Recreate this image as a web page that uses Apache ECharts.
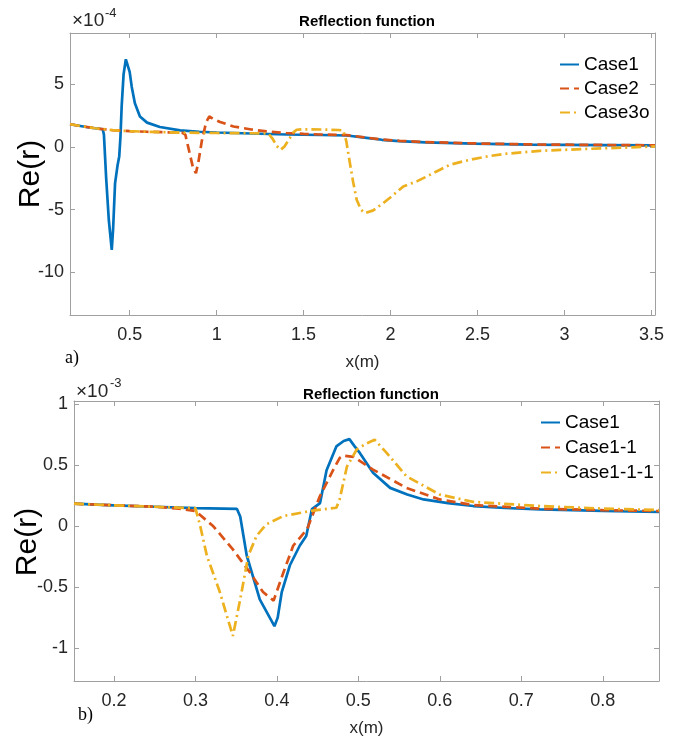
<!DOCTYPE html>
<html>
<head>
<meta charset="utf-8">
<script src="https://cdn.jsdelivr.net/npm/echarts@6/dist/echarts.min.js"></script>
<style>html,body{margin:0;padding:0;background:#fff}#c{width:680px;height:738px}</style>
</head>
<body>
<div id="c"></div>
<script>
// ---------- Panel a) values in units of 1e-4 ----------
const a_case1_x = [0.157,0.2,0.25,0.3,0.345,0.352,0.365,0.38,0.397,0.405,0.416,0.43,0.44,0.447,0.454,0.465,0.478,0.489,0.5,0.512,0.53,0.559,0.6,0.674,0.79,0.9,1.0,1.2,1.4,1.6,1.75,1.85,1.95,2.05,2.2,2.475,2.8,3.2,3.52];
const a_case1_y = [1.82,1.72,1.6,1.5,1.42,1.0,-2.5,-5.8,-8.2,-6.5,-2.9,-1.5,-0.75,0.8,3.24,5.8,7.0,7.1,6.0,4.8,3.5,2.44,1.95,1.6,1.33,1.22,1.16,1.08,1.0,0.96,0.92,0.75,0.58,0.48,0.38,0.28,0.2,0.16,0.13];
const a_case2_x = [0.157,0.2,0.3,0.4,0.5,0.6,0.7,0.8,0.82,0.845,0.865,0.881,0.895,0.915,0.94,0.958,0.98,1.02,1.097,1.2,1.287,1.4,1.5,1.6,1.75,1.85,1.95,2.05,2.2,2.475,2.8,3.2,3.52];
const a_case2_y = [1.82,1.72,1.5,1.35,1.27,1.22,1.18,1.15,1.0,-0.5,-1.7,-2.08,-1.2,0.5,2.0,2.44,2.25,2.0,1.64,1.4,1.25,1.12,1.05,1.0,0.95,0.77,0.6,0.5,0.4,0.29,0.21,0.17,0.14];
const a_case3_x = [0.157,0.2,0.3,0.4,0.5,0.6,0.8,1.0,1.2,1.297,1.32,1.345,1.368,1.39,1.42,1.44,1.46,1.5,1.6,1.7,1.728,1.745,1.766,1.785,1.805,1.83,1.852,1.9,1.958,2.0,2.073,2.15,2.2,2.284,2.341,2.4,2.475,2.567,2.667,2.858,3.145,3.35,3.52];
const a_case3_y = [1.82,1.72,1.5,1.35,1.27,1.22,1.15,1.12,1.1,1.08,0.7,0.1,-0.22,0.05,0.7,1.15,1.38,1.42,1.4,1.36,1.33,0.5,-1.28,-2.8,-4.2,-5.0,-5.27,-5.05,-4.47,-4.0,-3.14,-2.74,-2.4,-1.81,-1.41,-1.2,-0.96,-0.72,-0.53,-0.3,-0.14,-0.04,0.05];
const a_xTicks = [0.5,1,1.5,2,2.5,3,3.5];
const a_yTicks = [-10,-5,0,5];

// ---------- Panel b) values in units of 1e-3 ----------
const b_case1_x = [0.151,0.2,0.25,0.3,0.351,0.355,0.363,0.379,0.397,0.401,0.406,0.416,0.428,0.436,0.443,0.453,0.461,0.473,0.482,0.489,0.495,0.502,0.518,0.539,0.56,0.58,0.61,0.641,0.68,0.723,0.8,0.869];
const b_case1_y = [0.185,0.172,0.16,0.148,0.142,0.08,-0.24,-0.6,-0.82,-0.75,-0.54,-0.32,-0.16,-0.08,0.14,0.19,0.46,0.655,0.7,0.715,0.66,0.6,0.44,0.315,0.26,0.22,0.19,0.166,0.15,0.139,0.126,0.117];
const b_case11_x = [0.151,0.2,0.25,0.28,0.3,0.322,0.346,0.367,0.383,0.396,0.408,0.42,0.437,0.453,0.469,0.477,0.481,0.494,0.518,0.559,0.6,0.641,0.723,0.8,0.869];
const b_case11_y = [0.185,0.172,0.16,0.145,0.125,0.0,-0.19,-0.38,-0.54,-0.61,-0.38,-0.16,-0.025,0.25,0.46,0.56,0.58,0.57,0.465,0.315,0.22,0.174,0.144,0.132,0.125];
const b_case111_x = [0.151,0.2,0.25,0.3,0.306,0.314,0.33,0.346,0.355,0.365,0.375,0.387,0.408,0.441,0.473,0.477,0.486,0.498,0.51,0.52,0.535,0.559,0.6,0.641,0.723,0.8,0.869];
const b_case111_y = [0.185,0.172,0.16,0.148,0.0,-0.24,-0.54,-0.9,-0.6,-0.24,-0.08,0.016,0.084,0.125,0.152,0.22,0.49,0.63,0.68,0.71,0.6,0.41,0.26,0.2,0.166,0.145,0.133];
const b_xTicks = [0.2,0.3,0.4,0.5,0.6,0.7,0.8];
const b_yTicks = [-1,-0.5,0,0.5,1];

const zip = (xs, ys) => xs.map((x, i) => [x, ys[i]]);

const FONT = '"Liberation Sans", Arial, Helvetica, sans-serif';
const AXC = '#a0a0a0';
const TXT = '#262626';
const BLUE = '#0072BD', ORANGE = '#D95319', YELLOW = '#EDB120';

function axisLine() { return { show: true, onZero: false, lineStyle: { color: AXC, width: 1 } }; }
function mainX(grid, min, max, ticks) {
  return {
    type: 'value', gridIndex: grid, min: min, max: max, position: 'bottom',
    axisLine: axisLine(),
    axisTick: { show: true, inside: true, length: 5, lineStyle: { color: AXC }, customValues: ticks },
    axisLabel: { show: true, color: TXT, fontSize: 18, fontFamily: FONT, margin: 11, customValues: ticks, formatter: v => String(+v.toFixed(2)) },
    splitLine: { show: false },
    name: 'x(m)', nameLocation: 'middle', nameGap: 39,
    nameTextStyle: { color: TXT, fontSize: 17, fontFamily: FONT }
  };
}
function boxX(grid, min, max, ticks) {
  return {
    type: 'value', gridIndex: grid, min: min, max: max, position: 'top',
    axisLine: axisLine(),
    axisTick: { show: true, inside: true, length: 5, lineStyle: { color: AXC }, customValues: ticks },
    axisLabel: { show: false }, splitLine: { show: false }
  };
}
function mainY(grid, min, max, ticks) {
  return {
    type: 'value', gridIndex: grid, min: min, max: max, position: 'left',
    axisLine: axisLine(),
    axisTick: { show: true, inside: true, length: 5, lineStyle: { color: AXC }, customValues: ticks },
    axisLabel: { show: true, color: TXT, fontSize: 18, fontFamily: FONT, margin: 6, customValues: ticks, formatter: v => String(+v.toFixed(2)) },
    splitLine: { show: false }
  };
}
function boxY(grid, min, max, ticks) {
  return {
    type: 'value', gridIndex: grid, min: min, max: max, position: 'right',
    axisLine: axisLine(),
    axisTick: { show: true, inside: true, length: 5, lineStyle: { color: AXC }, customValues: ticks },
    axisLabel: { show: false }, splitLine: { show: false }
  };
}
function line(name, data, xi, yi, color, type) {
  return {
    type: 'line', name: name, data: data, xAxisIndex: xi, yAxisIndex: yi,
    showSymbol: false, symbol: 'none', smooth: false, clip: true,
    lineStyle: { color: color, width: 2.7, type: type }, itemStyle: { color: color },
    z: 3, animation: false
  };
}
const DASH = [9, 5];
const DASHDOT = [10, 4, 2, 4];

const chart = echarts.init(document.getElementById('c'), null, { renderer: 'canvas' });
chart.setOption({
  backgroundColor: '#fff',
  animation: false,
  title: [
    { text: 'Reflection function', left: 362, top: 9, textAlign: 'center',
      textStyle: { fontSize: 15, fontWeight: 'bold', color: '#000', fontFamily: FONT } },
    { text: 'Reflection function', left: 366, top: 382, textAlign: 'center',
      textStyle: { fontSize: 15, fontWeight: 'bold', color: '#000', fontFamily: FONT } }
  ],
  grid: [
    { left: 70, top: 33, width: 585, height: 282 },
    { left: 74, top: 401, width: 585, height: 282 }
  ],
  xAxis: [
    mainX(0, 0.157, 3.52, a_xTicks), boxX(0, 0.157, 3.52, a_xTicks),
    mainX(1, 0.151, 0.869, b_xTicks), boxX(1, 0.151, 0.869, b_xTicks)
  ],
  yAxis: [
    mainY(0, -13.4, 9.1, a_yTicks), boxY(0, -13.4, 9.1, a_yTicks),
    mainY(1, -1.27, 1.028, b_yTicks), boxY(1, -1.27, 1.028, b_yTicks)
  ],
  legend: [
    { orient: 'vertical', left: 554, top: 50, itemWidth: 19, itemHeight: 14, itemGap: 5,
      data: ['Case1', 'Case2', 'Case3o'], itemStyle: { opacity: 0 },
      textStyle: { fontSize: 19, color: '#000', fontFamily: FONT } },
    { orient: 'vertical', left: 535, top: 408, itemWidth: 19, itemHeight: 14, itemGap: 6,
      data: ['Case1 ', 'Case1-1', 'Case1-1-1'], itemStyle: { opacity: 0 },
      formatter: n => n.trim(),
      textStyle: { fontSize: 19, color: '#000', fontFamily: FONT } }
  ],
  graphic: [
    { type: 'text', left: 72, top: 11, style: { text: '×10', fontSize: 19, fill: TXT, fontFamily: FONT } },
    { type: 'text', left: 105, top: 7, style: { text: '-4', fontSize: 13, fill: TXT, fontFamily: FONT } },
    { type: 'text', left: 76, top: 382, style: { text: '×10', fontSize: 19, fill: TXT, fontFamily: FONT } },
    { type: 'text', left: 110, top: 377, style: { text: '-3', fontSize: 13, fill: TXT, fontFamily: FONT } },
    { type: 'text', x: 31, y: 174, rotation: Math.PI / 2,
      style: { text: 'Re(r)', fontSize: 30, fill: '#000', fontFamily: FONT, align: 'center', verticalAlign: 'middle' } },
    { type: 'text', x: 28, y: 542, rotation: Math.PI / 2,
      style: { text: 'Re(r)', fontSize: 30, fill: '#000', fontFamily: FONT, align: 'center', verticalAlign: 'middle' } },
    { type: 'text', x: 65, y: 358,
      style: { text: 'a)', fontSize: 18, fill: '#000', fontFamily: '"Liberation Serif", "Times New Roman", serif', verticalAlign: 'middle' } },
    { type: 'text', x: 78, y: 715,
      style: { text: 'b)', fontSize: 18, fill: '#000', fontFamily: '"Liberation Serif", "Times New Roman", serif', verticalAlign: 'middle' } }
  ],
  series: [
    line('Case1', zip(a_case1_x, a_case1_y), 0, 0, BLUE, 'solid'),
    line('Case2', zip(a_case2_x, a_case2_y), 0, 0, ORANGE, DASH),
    line('Case3o', zip(a_case3_x, a_case3_y), 0, 0, YELLOW, DASHDOT),
    line('Case1 ', zip(b_case1_x, b_case1_y), 2, 2, BLUE, 'solid'),
    line('Case1-1', zip(b_case11_x, b_case11_y), 2, 2, ORANGE, DASH),
    line('Case1-1-1', zip(b_case111_x, b_case111_y), 2, 2, YELLOW, DASHDOT)
  ]
});
</script>
</body>
</html>
